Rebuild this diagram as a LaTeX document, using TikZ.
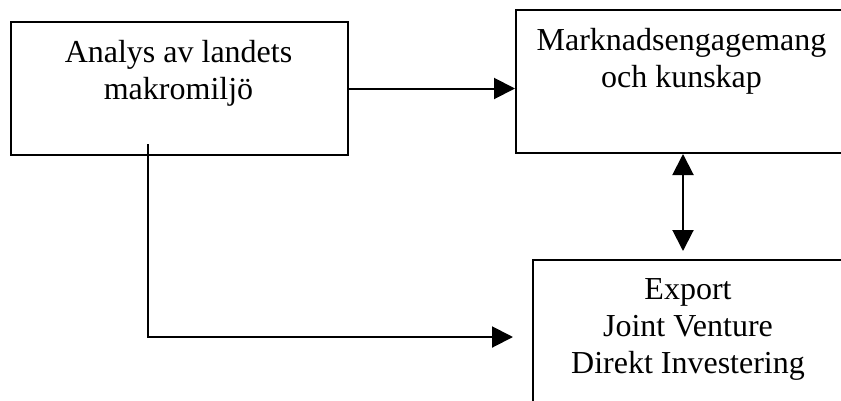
\documentclass[tikz,border=0pt]{standalone}
\usepackage{fontspec}
\setmainfont{Liberation Serif}
\usetikzlibrary{arrows.meta}
\begin{document}
\begin{tikzpicture}[x=1pt,y=-1pt,
  box/.style={draw,line width=2pt,inner sep=0pt,rectangle,anchor=north west},
  lbl/.style={align=center,inner sep=0pt,anchor=north,font=\fontsize{32}{37}\selectfont},
  conn/.style={line width=2pt},
  tipend/.style={-{Triangle[length=21pt,width=21pt]}},
  tipboth/.style={{Triangle[length=21pt,width=21pt]}-{Triangle[length=21pt,width=21pt]}}]
\clip (0,0) rectangle (841,400);
\node[box,minimum width=337pt,minimum height=133pt] (a) at (10,21) {};
\node[box,minimum width=345pt,minimum height=143pt] (b) at (515,9) {};
\node[box,minimum width=330pt,minimum height=160pt] (c) at (532,259) {};
\node[lbl] (ta) at (178.5,40) {Analys av landets\\makromiljö};
\node[lbl] (tb) at (681.5,28) {Marknadsengagemang\\och kunskap};
\node[lbl] (tc) at (688,278) {Export\\Joint Venture\\Direkt Investering};
\coordinate (dtip) at (683,251);
\coordinate (ls) at (148,144);
\coordinate (le) at (513,337);
\draw[conn,tipend] (a.east) -- (a.east -| b.west);
\draw[conn,tipboth] (b.south -| dtip) -- (dtip);
\draw[conn,tipend] (ls) |- (le);
\end{tikzpicture}
\end{document}
